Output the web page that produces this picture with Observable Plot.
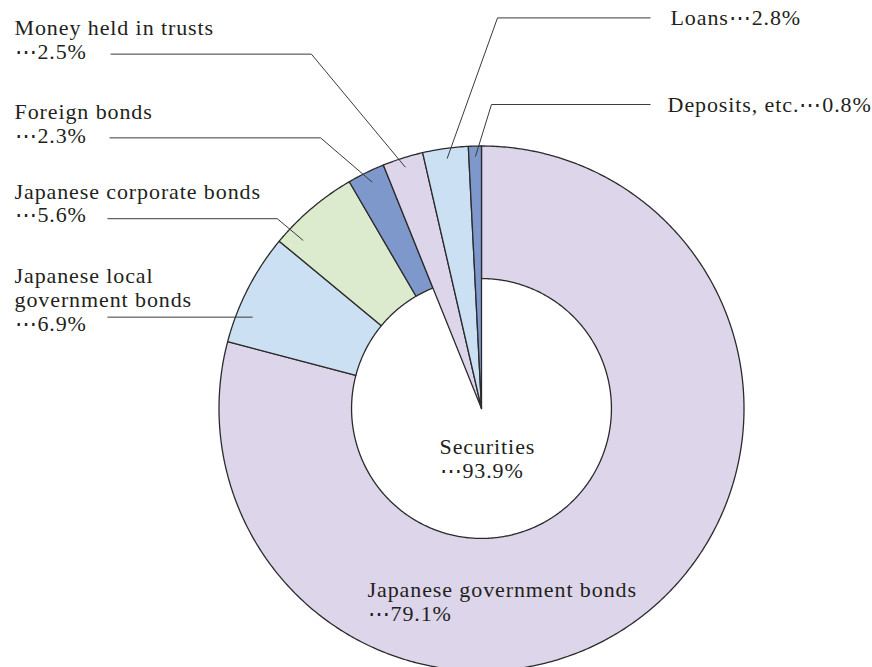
<!DOCTYPE html>
<html>
<head>
<meta charset="utf-8">
<script src="https://cdn.jsdelivr.net/npm/d3@7"></script>
<script src="https://cdn.jsdelivr.net/npm/@observablehq/plot@0.6"></script>
<style>
  html, body { margin: 0; padding: 0; background: #fff; }
  #chart svg text { font-family: "Liberation Serif", "Times New Roman", serif !important; letter-spacing: 0.9px; }
</style>
</head>
<body>
<div id="chart"></div>
<script>
// ---- Data ----
const categories = [
  "Japanese government bonds",
  "Japanese local government bonds",
  "Japanese corporate bonds",
  "Foreign bonds",
  "Money held in trusts",
  "Loans",
  "Deposits, etc."
];
const shares = [79.1, 6.9, 5.6, 2.3, 2.5, 2.8, 0.8];
const isSecurity = [true, true, true, true, false, false, false];
const labelNames = [
  "Japanese government bonds",
  "Japanese local\ngovernment bonds",
  "Japanese corporate bonds",
  "Foreign bonds",
  "Money held in trusts",
  "Loans",
  "Deposits, etc."
];
const inlineLabel = [false, false, false, false, false, true, true];
const securitiesLabel = "Securities";
const securitiesShare = 93.9;

// ---- Styles ----
const colors = ["#ddd5ea", "#cce0f3", "#dceacd", "#7e98cb", "#ddd5ea", "#cce0f3", "#7e98cb"];

// ---- Layout (units of outer radius, centre of the ring at 0,0) ----
const INNER = 0.495;
const labelAnchors = [
  [-0.434, -0.808],
  [-1.779, 0.297],
  [-1.779, 0.709],
  [-1.779, 1.013],
  [-1.779, 1.333],
  [0.720, 1.461],
  [0.709, 1.131]
];
const centreAnchor = [-0.160, -0.263];
const leaders = [
  null,
  [[-1.425, 0.348], [-0.872, 0.348]],
  [[-1.425, 0.723], [-0.778, 0.723], [-0.679, 0.640]],
  [[-1.417, 1.031], [-0.613, 1.031], [-0.416, 0.862]],
  [[-1.413, 1.350], [-0.648, 1.350], [-0.290, 0.919]],
  [[0.644, 1.488], [0.061, 1.488], [-0.131, 0.952]],
  [[0.644, 1.158], [0.038, 1.158], [-0.023, 0.960]]
];

// ---- Geometry from data ----
const total = d3.sum(shares);
let acc = 0;
const slicePts = [];
categories.forEach((name, i) => {
  const a0 = acc / total * 2 * Math.PI;
  acc += shares[i];
  const a1 = acc / total * 2 * Math.PI;
  const n = Math.max(2, Math.ceil((a1 - a0) / (Math.PI / 360)));
  const ring = [];
  for (let k = 0; k <= n; k++) {
    const a = a0 + (a1 - a0) * k / n;
    ring.push({name, x: Math.sin(a), y: Math.cos(a)});
  }
  if (isSecurity[i]) {
    for (let k = n; k >= 0; k--) {
      const a = a0 + (a1 - a0) * k / n;
      ring.push({name, x: INNER * Math.sin(a), y: INNER * Math.cos(a)});
    }
  } else {
    ring.push({name, x: 0, y: 0});
  }
  ring.push({...ring[0]});
  slicePts.push(...ring);
});

const leaderPts = [];
leaders.forEach((pts, i) => {
  if (!pts) return;
  pts.forEach(([x, y]) => leaderPts.push({name: categories[i], x, y}));
});

const labels = categories.map((name, i) => ({
  x: labelAnchors[i][0],
  y: labelAnchors[i][1],
  text: inlineLabel[i] ? `${labelNames[i]}⋯${shares[i]}%` : `${labelNames[i]}\n⋯${shares[i]}%`
}));
labels.push({x: centreAnchor[0], y: centreAnchor[1], text: `${securitiesLabel}\n⋯${securitiesShare}%`});

// ---- Frame ----
const W = 872, H = 667, R = 262.5, CX = 481, CY = 408;

const chart = Plot.plot({
  width: W,
  height: H,
  margin: 0,
  x: {domain: [-CX / R, (W - CX) / R], axis: null},
  y: {domain: [(CY - H) / R, CY / R], axis: null},
  color: {domain: categories, range: colors},
  style: {fontFamily: "Liberation Serif", background: "#fff", color: "#231f20"},
  marks: [
    Plot.line(slicePts, {x: "x", y: "y", z: "name", fill: "name", stroke: "#2b2b2b", strokeWidth: 1.3}),
    Plot.line(leaderPts, {x: "x", y: "y", z: "name", stroke: "#3a3a3a", strokeWidth: 1, strokeLinecap: "butt"}),
    Plot.text(labels, {x: "x", y: "y", text: "text", textAnchor: "start", lineAnchor: "bottom", lineHeight: 1.07, fontSize: 22, fontFamily: "Liberation Serif", fill: "#231f20"})
  ]
});
document.getElementById("chart").appendChild(chart);
</script>
</body>
</html>
